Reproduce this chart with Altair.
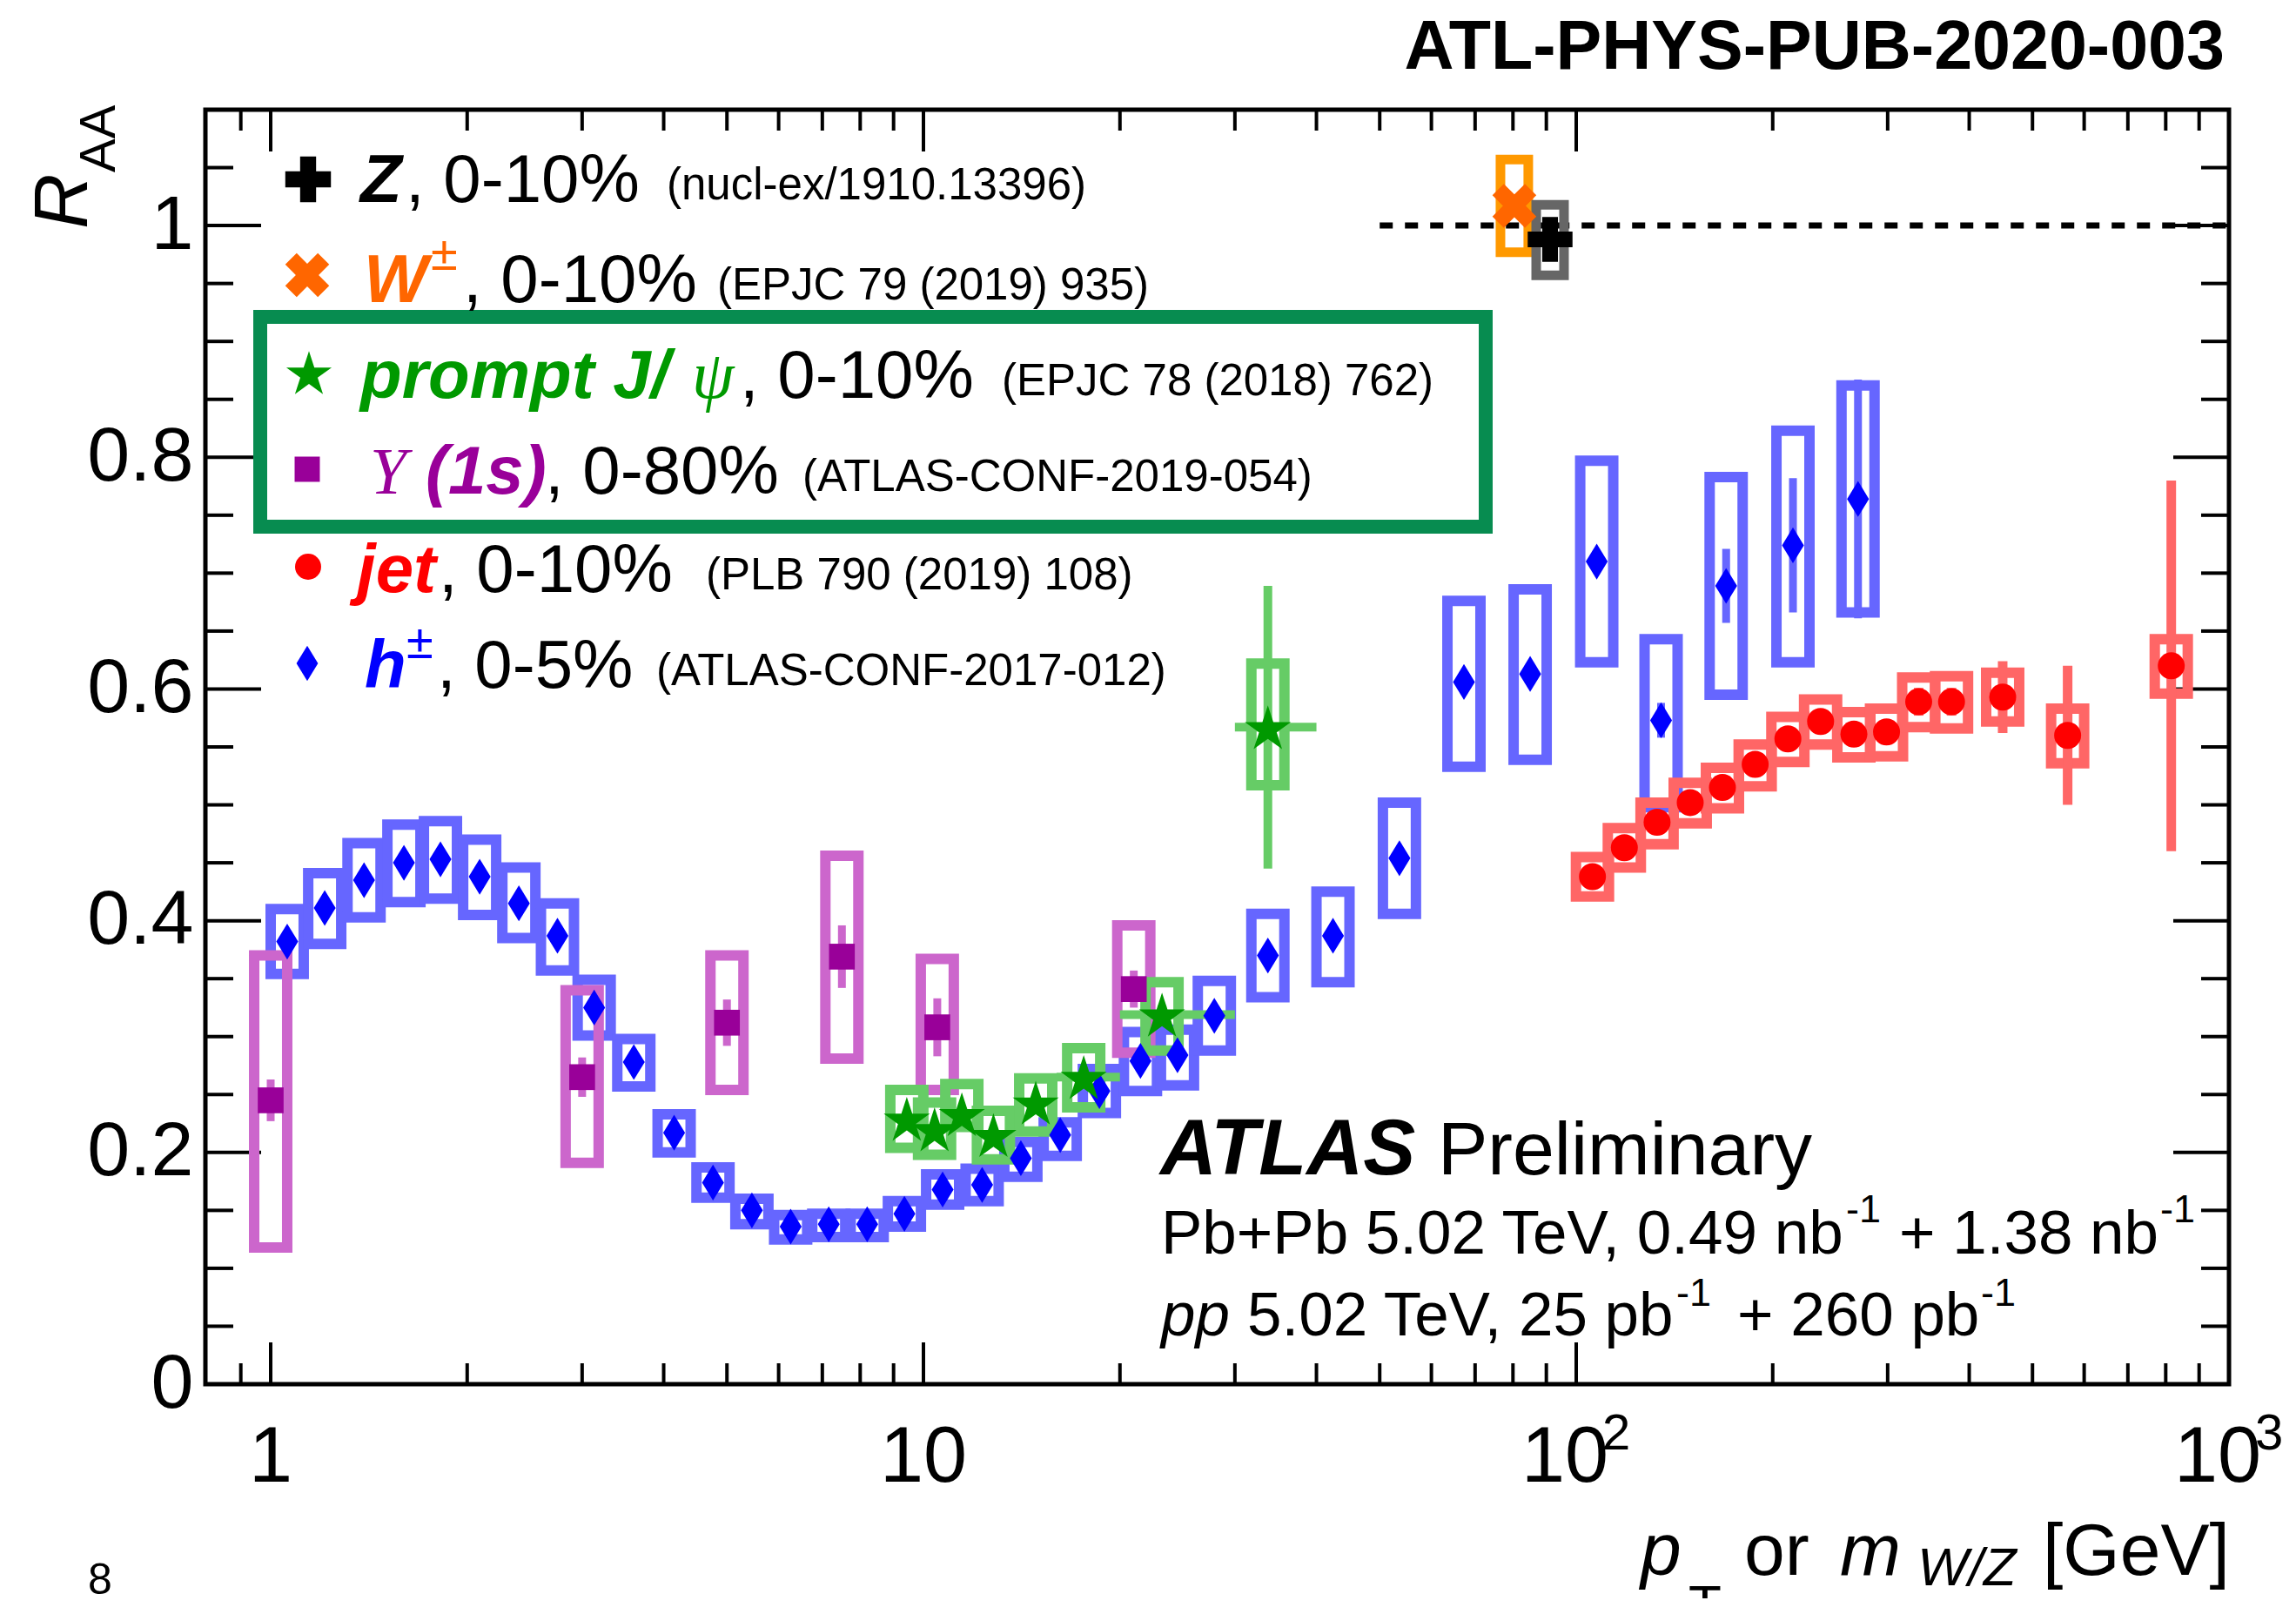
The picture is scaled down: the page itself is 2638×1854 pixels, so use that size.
import altair as alt
import pandas as pd

# ---------------- data ----------------
# h+- (ATLAS-CONF-2017-012), 0-5%
h_pt = [1.06, 1.21, 1.39, 1.60, 1.82, 2.09, 2.40, 2.75, 3.13, 3.60, 4.15, 4.76, 5.46, 6.26, 7.16,
        8.20, 9.35, 10.7, 12.3, 14.1, 16.2, 18.6, 21.5, 24.5, 27.9, 33.7, 42.4, 53.6, 67.3, 85.0,
        107.5, 134.9, 169.7, 214.8, 270.2]
h_raa = [0.382, 0.411, 0.435, 0.450, 0.453, 0.438, 0.415, 0.387, 0.325, 0.278, 0.217, 0.174, 0.150,
         0.136, 0.138, 0.138, 0.147, 0.168, 0.172, 0.195, 0.215, 0.253, 0.279, 0.284, 0.318, 0.370,
         0.387, 0.454, 0.606, 0.613, 0.710, 0.573, 0.689, 0.724, 0.764]
h_stat = [0.002, 0.002, 0.002, 0.002, 0.002, 0.002, 0.002, 0.002, 0.002, 0.002, 0.002, 0.002, 0.002,
          0.002, 0.002, 0.002, 0.002, 0.002, 0.002, 0.002, 0.003, 0.003, 0.003, 0.003, 0.003, 0.004,
          0.004, 0.005, 0.006, 0.007, 0.009, 0.015, 0.032, 0.058, 0.103]
h_sys_lo = [0.354, 0.380, 0.403, 0.416, 0.419, 0.405, 0.385, 0.357, 0.301, 0.257, 0.200, 0.161, 0.138,
            0.125, 0.127, 0.127, 0.136, 0.155, 0.158, 0.179, 0.197, 0.234, 0.253, 0.258, 0.288, 0.334,
            0.347, 0.406, 0.533, 0.539, 0.623, 0.498, 0.595, 0.623, 0.666]
h_sys_hi = [0.410, 0.441, 0.467, 0.483, 0.486, 0.470, 0.446, 0.415, 0.349, 0.298, 0.233, 0.187, 0.160,
            0.146, 0.147, 0.147, 0.158, 0.181, 0.186, 0.209, 0.226, 0.272, 0.304, 0.306, 0.348, 0.406,
            0.425, 0.502, 0.676, 0.686, 0.797, 0.643, 0.783, 0.823, 0.862]

# Upsilon(1s), 0-80%
u_pt = [1.0, 3.0, 5.0, 7.5, 10.5, 21.0]
u_raa = [0.245, 0.265, 0.312, 0.369, 0.308, 0.341]
u_stat = [0.018, 0.017, 0.020, 0.027, 0.025, 0.016]
u_sys_lo = [0.118, 0.191, 0.254, 0.281, 0.254, 0.286]
u_sys_hi = [0.370, 0.340, 0.370, 0.456, 0.367, 0.396]

# prompt J/psi, 0-10%
j_pt = [9.43, 10.4, 11.45, 12.8, 14.86, 17.6, 23.2, 33.7]
j_raa = [0.229, 0.220, 0.233, 0.215, 0.243, 0.265, 0.319, 0.567]
j_stat = [0.004, 0.004, 0.004, 0.004, 0.005, 0.006, 0.008, 0.122]
j_sys_lo = [0.204, 0.198, 0.222, 0.194, 0.218, 0.239, 0.288, 0.517]
j_sys_hi = [0.254, 0.243, 0.259, 0.236, 0.264, 0.290, 0.347, 0.622]
jx_pt = [17.6, 23.2, 33.7]
jx_lo = [16.0, 20.0, 30.0]
jx_hi = [20.0, 30.0, 40.0]

# jets, 0-10%
jet_pt = [105.9, 118.5, 133.0, 149.5, 167.5, 188.0, 211.0, 236.8, 266.3, 298.8, 334.7, 375.8,
          450.1, 566.0, 815.8]
jet_raa = [0.438, 0.463, 0.485, 0.502, 0.515, 0.535, 0.557, 0.572, 0.561, 0.563, 0.589, 0.589,
           0.593, 0.560, 0.620]
jet_stat = [0.003, 0.003, 0.003, 0.003, 0.004, 0.004, 0.005, 0.006, 0.008, 0.010, 0.012, 0.012,
            0.031, 0.060, 0.160]
jet_sys_lo = [0.421, 0.446, 0.466, 0.484, 0.497, 0.516, 0.537, 0.552, 0.541, 0.542, 0.567, 0.566,
              0.572, 0.536, 0.596]
jet_sys_hi = [0.455, 0.480, 0.502, 0.519, 0.532, 0.552, 0.576, 0.591, 0.580, 0.583, 0.610, 0.611,
              0.614, 0.583, 0.643]

# W and Z (vs boson mass)
w_m = [80.4]
w_raa = [1.017]
w_stat = [0.008]
w_sys_lo = [0.977]
w_sys_hi = [1.057]
z_m = [91.2]
z_raa = [0.988]
z_stat = [0.018]
z_sys_lo = [0.957]
z_sys_hi = [1.018]

# reference line
ref_x = [50.0]
ref_x2 = [1000.0]
ref_y = [1.0]

# axis ticks / labels
x_major = [1, 10, 100, 1000]
x_minor = [0.9, 2, 3, 4, 5, 6, 7, 8, 9, 20, 30, 40, 50, 60, 70, 80, 90,
           200, 300, 400, 500, 600, 700, 800, 900]
y_major = [0.0, 0.2, 0.4, 0.6, 0.8, 1.0]
y_minor = [0.05, 0.1, 0.15, 0.25, 0.3, 0.35, 0.45, 0.5, 0.55, 0.65, 0.7, 0.75, 0.85, 0.9, 0.95, 1.05]
x_lab_plain_v = [1, 10]
x_lab_plain_t = ["1", "10"]
x_lab_pow_v = [100, 1000]
x_lab_pow_base = ["10", "10"]
x_lab_pow_exp = ["2", "3"]

# ---------------- layout / style ----------------
W, H = 2325, 1464
FONT = "Liberation Sans"
SERIF = "Liberation Serif"
XMIN = 10 ** -0.1

xs = alt.Scale(type="log", domain=[XMIN, 1000], nice=False)
ys = alt.Scale(domain=[0, 1.1], nice=False, zero=False)
YAX = alt.Axis(values=y_major, format=".1~f", labelFont=FONT, labelFontSize=88, labelColor="black",
               labelPadding=14, ticks=False, domain=False, grid=False, title=None, labelFlush=False)

DIAMOND = "M0,-1L0.61,0L0,1L-0.61,0Z"
STAR = ("M0,-0.905L0.225,-0.214L0.951,-0.214L0.363,0.214L0.588,0.905L0,0.478"
        "L-0.588,0.905L-0.363,0.214L-0.951,-0.214L-0.225,-0.214Z")
PLUS = ("M-1,-0.35L-0.35,-0.35L-0.35,-1L0.35,-1L0.35,-0.35L1,-0.35L1,0.35L0.35,0.35"
        "L0.35,1L-0.35,1L-0.35,0.35L-1,0.35Z")

ONE = pd.DataFrame({"k": [0]})


def series(x, y, stat, lo, hi):
    return pd.DataFrame({"x": x, "y": y,
                         "elo": [a - b for a, b in zip(y, stat)],
                         "ehi": [a + b for a, b in zip(y, stat)],
                         "slo": lo, "shi": hi})


hdf = series(h_pt, h_raa, h_stat, h_sys_lo, h_sys_hi)
udf = series(u_pt, u_raa, u_stat, u_sys_lo, u_sys_hi)
jdf = series(j_pt, j_raa, j_stat, j_sys_lo, j_sys_hi)
jetdf = series(jet_pt, jet_raa, jet_stat, jet_sys_lo, jet_sys_hi)
wdf = series(w_m, w_raa, w_stat, w_sys_lo, w_sys_hi)
zdf = series(z_m, z_raa, z_stat, z_sys_lo, z_sys_hi)
jxdf = pd.DataFrame({"x": jx_lo, "x2": jx_hi, "y": [j_raa[j_pt.index(p)] for p in jx_pt]})


def boxes(df, color, half=0.0253, sw=12):
    return alt.Chart(df).transform_calculate(
        xl=f"datum.x*pow(10,{-half})", xr=f"datum.x*pow(10,{half})"
    ).mark_rect(fillOpacity=0, stroke=color, strokeWidth=sw).encode(
        x=alt.X("xl:Q", scale=xs, axis=None), x2="xr:Q",
        y=alt.Y("slo:Q", scale=ys, axis=YAX), y2="shi:Q")


def errs(df, color, sw=10):
    return alt.Chart(df).mark_rule(color=color, strokeWidth=sw).encode(
        x=alt.X("x:Q", scale=xs, axis=None),
        y=alt.Y("elo:Q", scale=ys, axis=YAX), y2="ehi:Q")


def pts(df, shape, size, color, angle=0):
    kw = dict(shape=shape, size=size, filled=True, opacity=1, color=color, strokeWidth=0)
    if angle:
        kw["angle"] = angle
    return alt.Chart(df).mark_point(**kw).encode(
        x=alt.X("x:Q", scale=xs, axis=None), y=alt.Y("y:Q", scale=ys, axis=YAX))


def lmark(shape, size, color, x, y, angle=0):
    kw = dict(shape=shape, size=size, filled=True, opacity=1, color=color, strokeWidth=0)
    if angle:
        kw["angle"] = angle
    return alt.Chart(ONE).mark_point(**kw).encode(x=alt.value(x), y=alt.value(y))


def txt(s, x, y, size, color="black", font=FONT, style="normal", weight="normal",
        align="left", angle=0):
    kw = dict(align=align, baseline="alphabetic", font=font, fontSize=size,
              fontStyle=style, fontWeight=weight, color=color)
    if angle:
        kw["angle"] = angle
    return alt.Chart(ONE).mark_text(**kw).encode(x=alt.value(x), y=alt.value(y), text=alt.value(s))


layers = []

# ---- frame ticks (inward, on all four sides) ----
xmaj = pd.DataFrame({"v": x_major})
xmin_ = pd.DataFrame({"v": x_minor})
ymaj = pd.DataFrame({"v": y_major})
ymin_ = pd.DataFrame({"v": y_minor})
for df, ln in ((xmaj, 48), (xmin_, 24)):
    layers.append(alt.Chart(df).mark_rule(color="black", strokeWidth=4).encode(
        x=alt.X("v:Q", scale=xs, axis=None), y=alt.value(H), y2=alt.value(H - ln)))
    layers.append(alt.Chart(df).mark_rule(color="black", strokeWidth=4).encode(
        x=alt.X("v:Q", scale=xs, axis=None), y=alt.value(0), y2=alt.value(ln)))
for df, ln in ((ymaj, 64), (ymin_, 32)):
    layers.append(alt.Chart(df).mark_rule(color="black", strokeWidth=4).encode(
        y=alt.Y("v:Q", scale=ys, axis=YAX), x=alt.value(0), x2=alt.value(ln)))
    layers.append(alt.Chart(df).mark_rule(color="black", strokeWidth=4).encode(
        y=alt.Y("v:Q", scale=ys, axis=YAX), x=alt.value(W), x2=alt.value(W - ln)))

# x tick labels
layers.append(alt.Chart(pd.DataFrame({"v": x_lab_plain_v, "t": x_lab_plain_t})).mark_text(
    align="center", baseline="alphabetic", font=FONT, fontSize=90, color="black").encode(
    x=alt.X("v:Q", scale=xs, axis=None), y=alt.value(1576), text="t:N"))
layers.append(alt.Chart(pd.DataFrame({"v": x_lab_pow_v, "t": x_lab_pow_base})).mark_text(
    align="center", baseline="alphabetic", font=FONT, fontSize=90, color="black", dx=-13).encode(
    x=alt.X("v:Q", scale=xs, axis=None), y=alt.value(1576), text="t:N"))
layers.append(alt.Chart(pd.DataFrame({"v": x_lab_pow_v, "t": x_lab_pow_exp})).mark_text(
    align="left", baseline="alphabetic", font=FONT, fontSize=58, color="black", dx=30).encode(
    x=alt.X("v:Q", scale=xs, axis=None), y=alt.value(1539), text="t:N"))

# dashed unity line
layers.append(alt.Chart(pd.DataFrame({"x": ref_x, "x2": ref_x2, "y": ref_y})).mark_rule(
    color="black", strokeWidth=7, strokeDash=[15, 14]).encode(
    x=alt.X("x:Q", scale=xs, axis=None), x2="x2:Q", y=alt.Y("y:Q", scale=ys, axis=YAX)))

# systematic boxes
layers += [boxes(hdf, "#6666ff"), boxes(udf, "#cc66cc"), boxes(jdf, "#66cc66"),
           boxes(jetdf, "#ff6666"), boxes(wdf, "#ff9900", half=0.0213, sw=11),
           boxes(zdf, "#666666", half=0.0213, sw=11)]

# statistical error bars
layers += [errs(hdf, "#6666ff", 9), errs(udf, "#cc66cc", 9), errs(jdf, "#66cc66", 10),
           errs(jetdf, "#ff6666", 11), errs(wdf, "#ff9900", 9), errs(zdf, "black", 9)]
layers.append(alt.Chart(jxdf).mark_rule(color="#66cc66", strokeWidth=10).encode(
    x=alt.X("x:Q", scale=xs, axis=None), x2="x2:Q", y=alt.Y("y:Q", scale=ys, axis=YAX)))

# markers
layers += [pts(hdf, DIAMOND, 1700, "#0000ff"), pts(udf, "square", 880, "#990099"),
           pts(jdf, STAR, 3100, "#009900"), pts(jetdf, "circle", 960, "#ff0000"),
           pts(wdf, PLUS, 2800, "#ff6600", angle=45), pts(zdf, PLUS, 2650, "black")]

# ---- legend ----
layers.append(alt.Chart(ONE).mark_rect(fillOpacity=0, stroke="#078c50", strokeWidth=16).encode(
    x=alt.value(63), x2=alt.value(1471), y=alt.value(238), y2=alt.value(479)))
layers += [lmark(PLUS, 2750, "black", 118, 80),
           lmark(PLUS, 2800, "#ff6600", 117, 190, angle=45),
           lmark(STAR, 3000, "#009900", 119, 302),
           lmark("square", 840, "#990099", 117, 413),
           lmark("circle", 900, "#ff0000", 118, 525),
           lmark(DIAMOND, 1650, "#0000ff", 117, 636)]

LF, SF = 78, 51
rows = [106, 221, 331, 441, 554, 664]
layers += [
    txt("Z", 178, rows[0], LF, style="italic", weight="bold"),
    txt(", 0-10%", 230, rows[0], LF),
    txt("(nucl-ex/1910.13396)", 530, rows[0] - 3, SF),
    txt("W", 182, rows[1], LF, color="#ff6600", style="italic", weight="bold"),
    txt("\u00b1", 259, rows[1] - 37, 56, color="#ff6600"),
    txt(", 0-10%", 296, rows[1], LF),
    txt("(EPJC 79 (2019) 935)", 588, rows[1] - 3, SF),
    txt("prompt J/", 178, rows[2], LF, color="#009900", style="italic", weight="bold"),
    txt("\u03c8", 559, rows[2], LF, color="#009900", font=SERIF, style="italic"),
    txt(", 0-10%", 614, rows[2], LF),
    txt("(EPJC 78 (2018) 762)", 915, rows[2] - 3, SF),
    txt("\u03a5", 189, rows[3], 76, color="#990099", font=SERIF, style="italic"),
    txt("(1s)", 253, rows[3], LF, color="#990099", style="italic", weight="bold"),
    txt(", 0-80%", 390, rows[3], LF),
    txt("(ATLAS-CONF-2019-054)", 686, rows[3] - 3, SF),
    txt("jet", 174, rows[4], LF, color="#ff0000", style="italic", weight="bold"),
    txt(", 0-10%", 268, rows[4], LF),
    txt("(PLB 790 (2019) 108)", 575, rows[4] - 3, SF),
    txt("h", 183, rows[5], LF, color="#0000ff", style="italic", weight="bold"),
    txt("\u00b1", 231, rows[5] - 34, 56, color="#0000ff"),
    txt(", 0-5%", 266, rows[5], LF),
    txt("(ATLAS-CONF-2017-012)", 518, rows[5] - 3, SF),
]

# ---- ATLAS label ----
layers += [
    txt("ATLAS", 1097, 1223, 90, style="italic", weight="bold"),
    txt("Preliminary", 1416, 1223, 86),
    txt("Pb+Pb 5.02 TeV, 0.49 nb", 1098, 1314, 71),
    txt("-1", 1885, 1278, 45),
    txt("+ 1.38 nb", 1946, 1314, 71),
    txt("-1", 2246, 1278, 45),
    txt("pp", 1098, 1408, 71, style="italic"),
    txt("5.02 TeV, 25 pb", 1197, 1408, 71),
    txt("-1", 1690, 1374, 45),
    txt("+ 260 pb", 1760, 1408, 71),
    txt("-1", 2040, 1374, 45),
]

# ---- titles ----
layers += [
    txt("ATL-PHYS-PUB-2020-003", 2320, -47, 79, weight="bold", align="right"),
    txt("R", -136, 137, 88, style="italic", angle=270),
    txt("AA", -104, 72, 58, angle=270),
    txt("p", 1649, 1683, 84, style="italic"),
    txt("T", 1704, 1738, 62),
    txt("or", 1768, 1683, 84),
    txt("m", 1878, 1683, 84, style="italic"),
    txt("W/Z", 1967, 1695, 62, style="italic"),
    txt("[GeV]", 2111, 1683, 84),
    txt("8", -135, 1705, 50),
]

chart = alt.layer(*layers).properties(
    width=W, height=H,
    padding={"left": 228, "top": 118, "right": 64, "bottom": 246},
    autosize=alt.AutoSizeParams(type="none"),
    background="white",
).configure_view(stroke="black", strokeWidth=5)

chart.save("out.html", embed_options={"renderer": "svg", "actions": False})
